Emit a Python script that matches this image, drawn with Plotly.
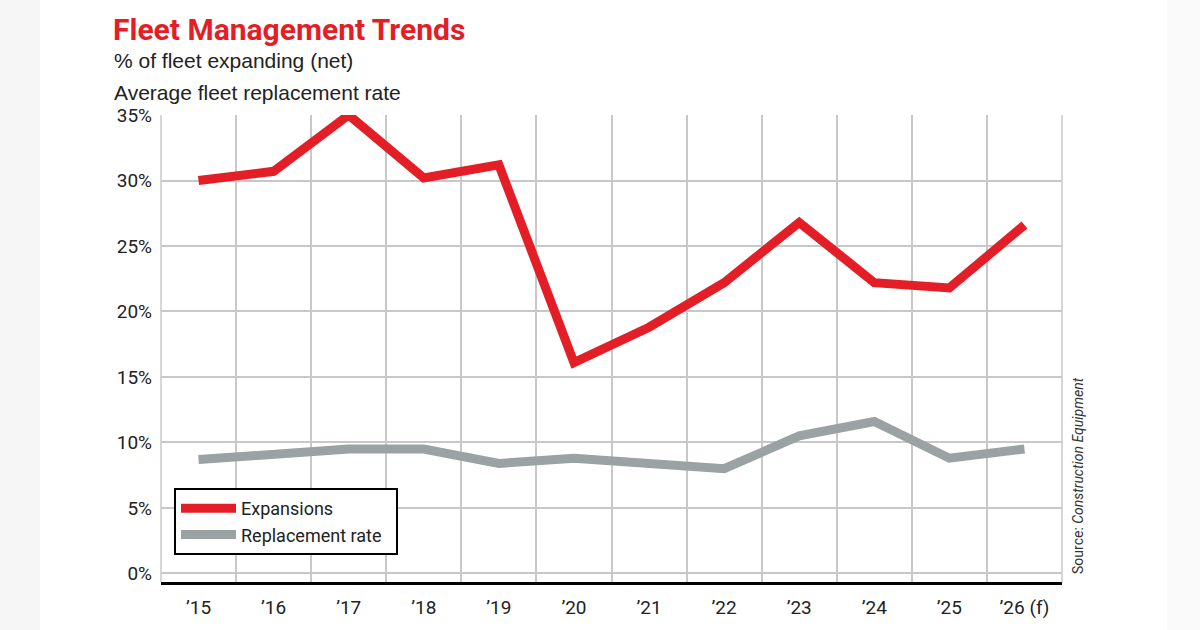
import plotly.graph_objects as go

years = ["’15", "’16", "’17", "’18", "’19", "’20", "’21", "’22", "’23", "’24", "’25", "’26 (f)"]
expansions = [30.0, 30.7, 35.0, 30.2, 31.2, 16.1, 18.8, 22.2, 26.8, 22.2, 21.8, 26.6]
replacement = [8.7, 9.1, 9.5, 9.5, 8.4, 8.8, 8.4, 8.0, 10.5, 11.6, 8.8, 9.5]
y_ticks = [0, 5, 10, 15, 20, 25, 30, 35]
y_tick_labels = ["0%", "5%", "10%", "15%", "20%", "25%", "30%", "35%"]

RED = "#e41e26"
GRAY = "#9ba2a4"
FONT = "Roboto, Arial, sans-serif"

# plot area in pixels
L, R, T, B = 161, 1062, 115, 582
W, H = 1200, 630

def px(x):
    return (x - L) / (R - L)

def py(y):
    return (B - y) / (B - T)

fig = go.Figure()
fig.add_trace(go.Scatter(x=years, y=expansions, mode="lines", name="Expansions  ",
                         line=dict(color=RED, width=9),
                         hoverinfo="skip"))
fig.add_trace(go.Scatter(x=years, y=replacement, mode="lines", name="Replacement rate  ",
                         line=dict(color=GRAY, width=9),
                         hoverinfo="skip"))

fig.update_layout(
    width=W, height=H,
    margin=dict(l=L, r=W - R, t=T, b=H - B, pad=0),
    paper_bgcolor="white", plot_bgcolor="white",
    showlegend=True,
    legend=dict(x=px(174), y=py(488), xanchor="left", yanchor="top",
                bordercolor="black", borderwidth=2, bgcolor="white",
                font=dict(family=FONT, size=18, color="#222"),
                tracegroupgap=4, itemwidth=55),
    xaxis=dict(type="category", range=[-0.5, 11.5], tickson="boundaries",
               showgrid=True, gridcolor="#c8c8c8", gridwidth=1.5,
               ticks="", showline=True, linecolor="black", linewidth=3,
               tickfont=dict(family=FONT, size=19, color="#222"),
               ticklabelstandoff=6, fixedrange=True),
    yaxis=dict(range=[-0.65, 35], tickvals=y_ticks, ticktext=y_tick_labels,
               showgrid=True, gridcolor="#c8c8c8", gridwidth=1.5,
               zeroline=False, showline=False, ticks="",
               tickfont=dict(family=FONT, size=19, color="#222"),
               ticklabelstandoff=8, fixedrange=True),
    shapes=[
        dict(type="line", xref="paper", yref="paper", x0=0, x1=0, y0=0, y1=1,
             line=dict(color="#c8c8c8", width=1.5), layer="below"),
        dict(type="line", xref="paper", yref="paper", x0=1, x1=1, y0=0, y1=1,
             line=dict(color="#c8c8c8", width=1.5), layer="below"),
        dict(type="rect", xref="paper", yref="paper", x0=px(0), x1=px(40), y0=py(630), y1=py(0),
             fillcolor="#f6f6f6", line=dict(width=0), layer="below"),
        dict(type="rect", xref="paper", yref="paper", x0=px(1167), x1=px(1200), y0=py(630), y1=py(0),
             fillcolor="#fafafa", line=dict(width=0), layer="below"),
    ],
    annotations=[
        dict(text="<b>Fleet Management Trends</b>", xref="paper", yref="paper",
             x=px(111), y=py(30), xanchor="left", yanchor="middle", showarrow=False,
             font=dict(family=FONT, size=30, color=RED)),
        dict(text="% of fleet expanding (net)", xref="paper", yref="paper",
             x=px(112), y=py(60), xanchor="left", yanchor="middle", showarrow=False,
             font=dict(family="Liberation Sans, Arial, sans-serif", size=21, color="#222")),
        dict(text="Average fleet replacement rate", xref="paper", yref="paper",
             x=px(112), y=py(92), xanchor="left", yanchor="middle", showarrow=False,
             font=dict(family="Liberation Sans, Arial, sans-serif", size=21, color="#222")),
        dict(text="Source: <i>Construction Equipment</i>", xref="paper", yref="paper",
             x=px(1078), y=py(476), xanchor="center", yanchor="middle", showarrow=False,
             textangle=-90,
             font=dict(family=FONT, size=14, color="#333")),
    ],
)

fig.write_html("out.html", config={"displayModeBar": False})
